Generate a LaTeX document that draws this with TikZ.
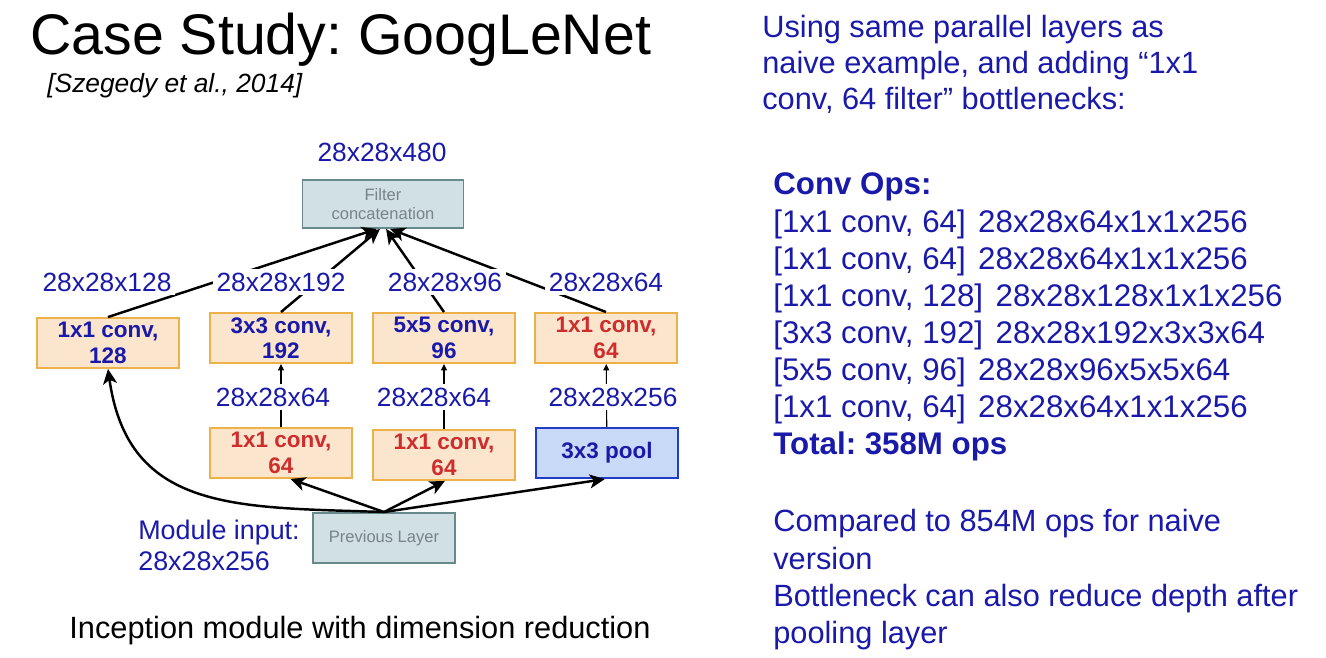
\documentclass[tikz,border=0pt]{standalone}
\usepackage{fontspec}
\setmainfont{Liberation Sans}
\usetikzlibrary{arrows.meta}
\frenchspacing
\definecolor{txtblue}{RGB}{25,25,170}
\definecolor{txtred}{RGB}{205,45,45}
\definecolor{convfill}{RGB}{252,229,205}
\definecolor{convedge}{RGB}{238,176,72}
\definecolor{poolfill}{RGB}{201,218,248}
\definecolor{pooledge}{RGB}{35,60,200}
\definecolor{layerfill}{RGB}{208,224,227}
\definecolor{layeredge}{RGB}{105,138,140}
\definecolor{layertext}{RGB}{120,132,134}
\begin{document}
\begin{tikzpicture}
  [x=0.02cm,y=-0.02cm,
   lbl/.style={fill=white,inner sep=2pt,text=txtblue,font=\fontsize{15}{18}\selectfont},
   conv/.style={draw=convedge,fill=convfill,line width=1.1pt,minimum width=2.84cm,minimum height=1cm,
     inner sep=0pt,align=center,font=\fontsize{12.8}{14.5}\bfseries\selectfont},
   pool/.style={conv,draw=pooledge,fill=poolfill,line width=1.3pt,text=txtblue},
   layer/.style={draw=layeredge,fill=layerfill,line width=1.1pt,inner sep=0pt,align=center,
     text=layertext,font=\fontsize{9.4}{11}\selectfont},
   big/.style={line width=1.4pt,-{Stealth[length=0.3cm,width=0.28cm,inset=0.08cm]}},
   small/.style={line width=0.6pt,-{Triangle[length=0.13cm,width=0.12cm]}},
   txt/.style={anchor=base west,inner sep=0pt,text=txtblue,font=\fontsize{17.5}{21}\selectfont}]
  \useasboundingbox (0,0) rectangle (1326,658);

  % title
  \node[anchor=base west,inner sep=0pt,font=\fontsize{32.6}{38}\selectfont] (title) at (30,55) {Case Study: GoogLeNet};
  \node[anchor=base west,inner sep=0pt,font=\fontsize{15}{18}\itshape\selectfont] (cite) at (47,93) {[Szegedy et al., 2014]};

  % module
  \node[layer,minimum width=3.22cm,minimum height=0.96cm] (concat) at (383,204) {Filter\\concatenation};
  \node[conv,text=txtblue] (c1) at (108,343) {1x1 conv,\\128};
  \node[conv,text=txtblue] (c3) at (281,338) {3x3 conv,\\192};
  \node[conv,text=txtblue] (c5) at (444,338) {5x5 conv,\\96};
  \node[conv,text=txtred] (cp) at (606,338) {1x1 conv,\\64};
  \node[conv,text=txtred] (r3) at (281,453) {1x1 conv,\\64};
  \node[conv,text=txtred] (r5) at (444,455) {1x1 conv,\\64};
  \node[pool] (mp) at (607,453) {3x3 pool};
  \node[layer,minimum width=2.84cm,minimum height=1cm] (prev) at (384,538) {Previous Layer};

  \draw[big] (c1.north) -- (concat.-104);
  \draw[big] (c3.north) -- (concat.-97);
  \draw[big] (c5.north) -- (concat.-83);
  \draw[big] (cp.north) -- (concat.-74);
  \draw[big] (prev.north) to[out=178,in=-82,looseness=1.2] (c1.south);
  \draw[big] (prev.north) -- (r3.-70);
  \draw[big] (prev.north) -- (r5.-88);
  \draw[big] (prev.north) -- (mp.-95);
 \foreach \from/\to in {r3/c3,r5/c5,mp/cp}
    \draw[small] (\from) -- (\to);

  % sizes
  \node[lbl] (s480) at (382,152) {28x28x480};
  \node[lbl] (s128) at (107,282) {28x28x128};
  \node[lbl] (s192) at (281,282) {28x28x192};
  \node[lbl] (s96) at (445,282) {28x28x96};
  \node[lbl] (s64) at (606,282) {28x28x64};
  \node[lbl] (t64a) at (273,397) {28x28x64};
  \node[lbl] (t64b) at (434,397) {28x28x64};
  \node[lbl] (t256) at (613,397) {28x28x256};
  \node[lbl,anchor=base west,inner sep=0pt,fill=none,font=\fontsize{15.3}{18}\selectfont] (inp) at (138,540) {Module input:};
  \node[lbl,anchor=base west,inner sep=0pt,fill=none,font=\fontsize{15.3}{18}\selectfont] (inps) at (138,570) {28x28x256};
  \node[anchor=base,inner sep=0pt,font=\fontsize{17.5}{20}\selectfont] (caption) at (360,638) {Inception module with dimension reduction};

  % right column
  \foreach \t [count=\i from 0] in {Using same parallel layers as,{naive example, and adding “1x1},{conv, 64 filter” bottlenecks:}}
    \node[txt] (intro\i) at (762,{38+36*\i}) {\t};
  \foreach \t [count=\i from 0] in {\textbf{Conv Ops:},
      {[1x1 conv, 64]\hspace{0.4em}28x28x64x1x1x256},{[1x1 conv, 64]\hspace{0.4em}28x28x64x1x1x256},
      {[1x1 conv, 128]\hspace{0.4em}28x28x128x1x1x256},{[3x3 conv, 192]\hspace{0.4em}28x28x192x3x3x64},
      {[5x5 conv, 96]\hspace{0.4em}28x28x96x5x5x64},{[1x1 conv, 64]\hspace{0.4em}28x28x64x1x1x256},
      \textbf{Total: 358M ops}}
    \node[txt,font=\fontsize{17.8}{21}\selectfont] (ops\i) at (773,{195+37.1*\i}) {\t};
  \foreach \t [count=\i from 0] in {Compared to 854M ops for naive,version,
      Bottleneck can also reduce depth after,pooling layer}
    \node[txt] (note\i) at (773,{532+37*\i}) {\t};
\end{tikzpicture}
\end{document}
